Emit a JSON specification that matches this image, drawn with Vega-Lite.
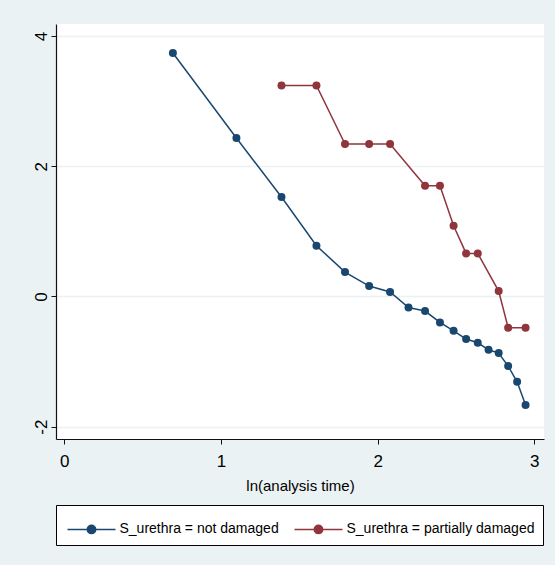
{
  "$schema": "https://vega.github.io/schema/vega-lite/v6.json",
  "width": 488,
  "height": 415,
  "autosize": {"type": "none"},
  "padding": {"left": 56, "top": 24, "right": 11, "bottom": 126},
  "background": "#eaf2f3",
  "config": {
    "view": {"fill": "white", "stroke": null},
    "font": "Liberation Sans",
    "axis": {
      "domainColor": "#111",
      "domainWidth": 1.2,
      "tickColor": "#111",
      "tickSize": 5,
      "tickWidth": 1,
      "labelFontSize": 17,
      "labelColor": "#000",
      "titleFontSize": 15,
      "titleFontWeight": "normal",
      "titleColor": "#000"
    }
  },
  "data": {
    "values": [
      {"series": "S_urethra = not damaged", "x": 0.6931, "y": 3.739},
      {"series": "S_urethra = not damaged", "x": 1.0986, "y": 2.433},
      {"series": "S_urethra = not damaged", "x": 1.3863, "y": 1.527},
      {"series": "S_urethra = not damaged", "x": 1.6094, "y": 0.779},
      {"series": "S_urethra = not damaged", "x": 1.7918, "y": 0.375},
      {"series": "S_urethra = not damaged", "x": 1.9459, "y": 0.160},
      {"series": "S_urethra = not damaged", "x": 2.0794, "y": 0.068},
      {"series": "S_urethra = not damaged", "x": 2.1972, "y": -0.169},
      {"series": "S_urethra = not damaged", "x": 2.3026, "y": -0.224},
      {"series": "S_urethra = not damaged", "x": 2.3979, "y": -0.399},
      {"series": "S_urethra = not damaged", "x": 2.4849, "y": -0.527},
      {"series": "S_urethra = not damaged", "x": 2.5649, "y": -0.654},
      {"series": "S_urethra = not damaged", "x": 2.6391, "y": -0.711},
      {"series": "S_urethra = not damaged", "x": 2.7081, "y": -0.819},
      {"series": "S_urethra = not damaged", "x": 2.7726, "y": -0.869},
      {"series": "S_urethra = not damaged", "x": 2.8332, "y": -1.069},
      {"series": "S_urethra = not damaged", "x": 2.8904, "y": -1.310},
      {"series": "S_urethra = not damaged", "x": 2.9444, "y": -1.668},
      {"series": "S_urethra = partially damaged", "x": 1.3863, "y": 3.241},
      {"series": "S_urethra = partially damaged", "x": 1.6094, "y": 3.241},
      {"series": "S_urethra = partially damaged", "x": 1.7918, "y": 2.341},
      {"series": "S_urethra = partially damaged", "x": 1.9459, "y": 2.341},
      {"series": "S_urethra = partially damaged", "x": 2.0794, "y": 2.341},
      {"series": "S_urethra = partially damaged", "x": 2.3026, "y": 1.700},
      {"series": "S_urethra = partially damaged", "x": 2.3979, "y": 1.700},
      {"series": "S_urethra = partially damaged", "x": 2.4849, "y": 1.086},
      {"series": "S_urethra = partially damaged", "x": 2.5649, "y": 0.661},
      {"series": "S_urethra = partially damaged", "x": 2.6391, "y": 0.661},
      {"series": "S_urethra = partially damaged", "x": 2.7726, "y": 0.083},
      {"series": "S_urethra = partially damaged", "x": 2.8332, "y": -0.481},
      {"series": "S_urethra = partially damaged", "x": 2.9444, "y": -0.481}
    ]
  },
  "encoding": {
    "x": {
      "field": "x",
      "type": "quantitative",
      "scale": {"domain": [-0.053, 3.062], "nice": false, "zero": false},
      "axis": {"values": [0, 1, 2, 3], "title": "ln(analysis time)", "grid": false, "labelPadding": 9, "titlePadding": 9}
    },
    "y": {
      "field": "y",
      "type": "quantitative",
      "scale": {"domain": [-2.189, 4.184], "nice": false, "zero": false},
      "axis": {
        "values": [-2, 0, 2, 4],
        "title": null,
        "grid": true,
        "gridColor": "#eaf2f3",
        "gridWidth": 1.5,
        "labelAngle": -90,
        "labelAlign": "center",
        "labelBaseline": "alphabetic",
        "labelPadding": 5,
        "labelExpr": "toString(datum.value)"
      }
    },
    "color": {
      "field": "series",
      "type": "nominal",
      "scale": {"domain": ["S_urethra = not damaged", "S_urethra = partially damaged"], "range": ["#1a476f", "#90353b"]},
      "legend": {
        "orient": "bottom",
        "direction": "horizontal",
        "title": null,
        "symbolType": "M-1.6,0L1.6,0M-0.28,0A0.28,0.28,0,1,0,0.28,0A0.28,0.28,0,1,0,-0.28,0Z",
        "symbolSize": 900,
        "symbolStrokeWidth": 1.5,
        "symbolOffset": 11.5,
        "labelOffset": 12,
        "labelFontSize": 14,
        "labelColor": "#000",
        "labelLimit": 0,
        "padding": 8,
        "strokeColor": "#000",
        "fillColor": "white",
        "offset": 12,
        "columnPadding": 12,
        "encode": {
          "symbols": {
            "update": {
              "fill": {"scale": "color", "field": "value"},
              "stroke": {"scale": "color", "field": "value"},
              "opacity": {"value": 1}
            }
          }
        }
      }
    }
  },
  "layer": [
    {
      "mark": {"type": "line", "strokeWidth": 1.5}
    },
    {
      "mark": {"type": "point", "filled": true, "size": 64, "opacity": 1}
    }
  ]
}
